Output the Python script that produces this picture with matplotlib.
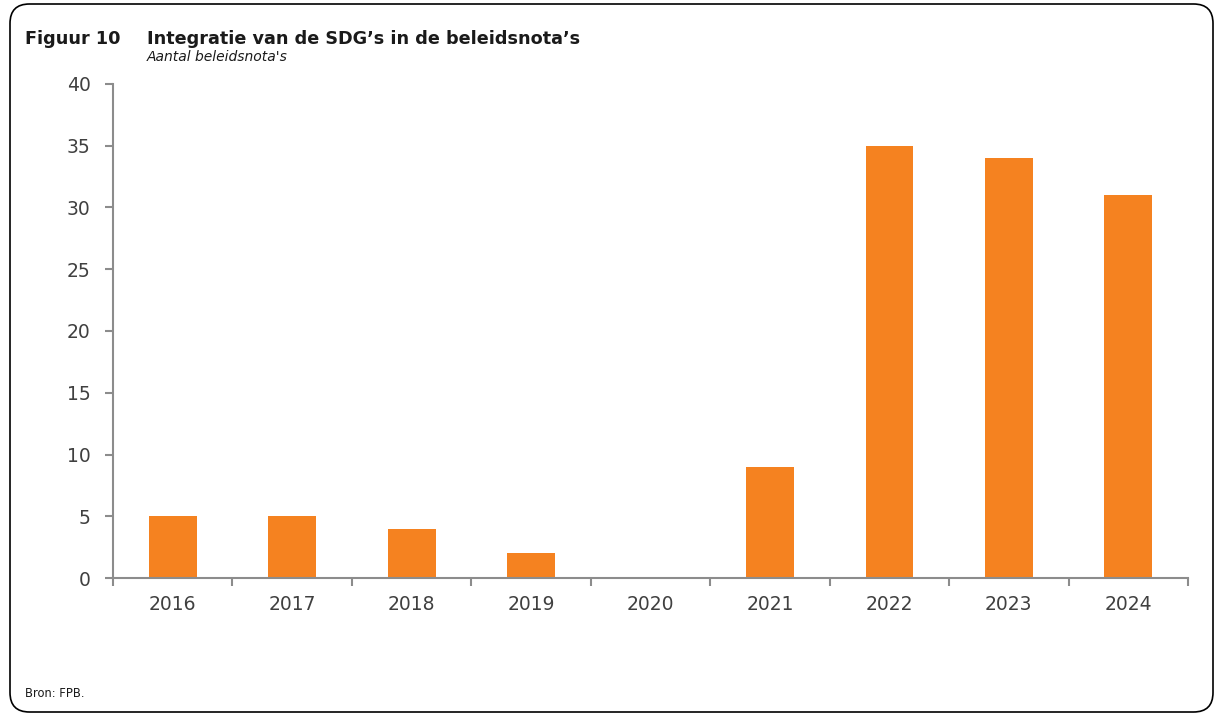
import matplotlib.pyplot as plt
from matplotlib.patches import FancyBboxPatch
from matplotlib.ticker import FixedLocator

years = ['2016', '2017', '2018', '2019', '2020', '2021', '2022', '2023', '2024']
nota_count = [5, 5, 4, 2, 0, 9, 35, 34, 31]

W, H = 1215, 718
fig = plt.figure(figsize=(W / 100, H / 100), dpi=100)
plt.rcParams['font.family'] = ['DejaVu Sans']

# frame with rounded corners
frame = FancyBboxPatch((10 / W, 6 / H), 1203 / W, 708 / H,
                       boxstyle='round,pad=0,rounding_size=0.016',
                       mutation_aspect=W / H,
                       transform=fig.transFigure, fill=False,
                       edgecolor='black', linewidth=1.2, clip_on=False)
fig.patches.append(frame)

ax = fig.add_axes([113 / W, 1 - 578 / H, (1188 - 113) / W, (578 - 84) / H])
x = range(len(years))
ax.bar(x, nota_count, width=0.4, color='#F58220')

ax.set_xlim(-0.5, len(years) - 0.5)
ax.set_ylim(0, 40)
ax.set_yticks(range(0, 41, 5))
ax.set_xticks(list(x))
ax.set_xticklabels(years)
ax.xaxis.set_minor_locator(FixedLocator([i - 0.5 for i in range(len(years) + 1)]))
ax.tick_params(axis='x', which='major', length=0, pad=12, labelsize=13.5, labelcolor='#404040')
ax.tick_params(axis='x', which='minor', length=6, width=1.5, color='#8c8c8c', direction='out')
ax.tick_params(axis='y', length=6, width=1.5, color='#8c8c8c', pad=10,
               labelsize=13.5, labelcolor='#404040')
for s in ['top', 'right']:
    ax.spines[s].set_visible(False)
for s in ['left', 'bottom']:
    ax.spines[s].set_color('#8c8c8c')
    ax.spines[s].set_linewidth(1.5)

fig.text(25 / W, 1 - 44 / H, 'Figuur 10', fontsize=12.7, fontweight='bold', color='#1a1a1a')
fig.text(147 / W, 1 - 44 / H, "Integratie van de SDG’s in de beleidsnota’s",
         fontsize=12.7, fontweight='bold', color='#1a1a1a')
fig.text(147 / W, 1 - 61 / H, "Aantal beleidsnota's", fontsize=10, style='italic', color='#1a1a1a')
fig.text(25 / W, 1 - 697 / H, 'Bron: FPB.', fontsize=8.3, color='#1a1a1a')

fig.savefig('out.png', dpi=100)
